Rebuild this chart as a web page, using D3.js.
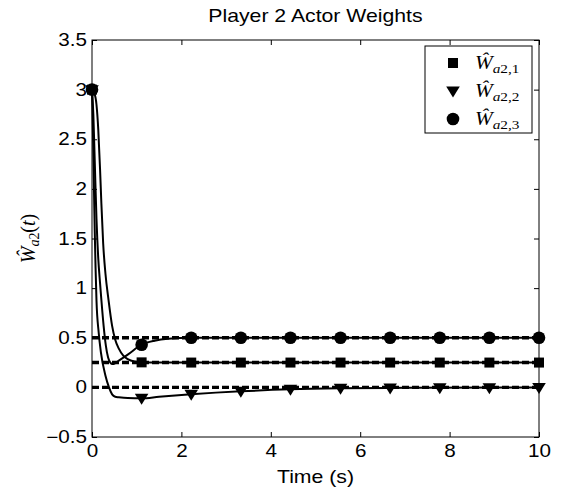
<!DOCTYPE html>
<html>
<head>
<meta charset="utf-8">
<script src="https://cdn.jsdelivr.net/npm/d3@7"></script>
<style>
  body { margin: 0; background: #fff; }
  text { fill: #000; }
  /* el grafico original esta un poco estirado en horizontal */
  .sx  { transform: scaleX(1.18); transform-box: fill-box; transform-origin: 50% 50%; }
  .sxr { transform: scaleX(1.18); transform-box: fill-box; transform-origin: 100% 50%; }
  .sxl { transform: scaleX(1.18); transform-box: fill-box; transform-origin: 0% 50%; }
</style>
</head>
<body>
<script>
const WIDTH = 565;
const HEIGHT = 492;

// datos
const xTicks = [0, 2, 4, 6, 8, 10];
const yTicks = [-0.5, 0, 0.5, 1, 1.5, 2, 2.5, 3, 3.5];
const idealValues = [0.25, 0, 0.5];

const t1 = [0, 0.05, 0.1, 0.14, 0.18, 0.21, 0.25, 0.3, 0.37, 0.45, 0.52, 0.6, 0.7, 0.8, 0.95, 1.11, 1.5, 2, 4, 10];
const w1 = [3, 2.97, 2.85, 2.6, 2.2, 1.85, 1.45, 1.15, 0.88, 0.62, 0.48, 0.39, 0.32, 0.285, 0.26, 0.252, 0.25, 0.25, 0.25, 0.25];

const t2 = [0, 0.02, 0.04, 0.06, 0.08, 0.1, 0.15, 0.2, 0.3, 0.38, 0.45, 0.52, 0.6, 0.8, 1.11, 1.5, 2.22, 3.33, 4.44, 5.56, 7, 10];
const w2 = [3, 2.6, 2.1, 1.6, 1.2, 0.88, 0.55, 0.35, 0.12, 0.0, -0.07, -0.095, -0.1, -0.108, -0.11, -0.095, -0.07, -0.04, -0.02, -0.01, -0.005, 0];

const t3 = [0, 0.03, 0.06, 0.1, 0.14, 0.18, 0.21, 0.26, 0.31, 0.36, 0.41, 0.46, 0.52, 0.6, 0.8, 1.11, 1.4, 1.7, 2.22, 3, 10];
const w3 = [3, 2.75, 2.3, 1.7, 1.3, 1.05, 0.88, 0.62, 0.42, 0.3, 0.25, 0.235, 0.245, 0.27, 0.33, 0.43, 0.47, 0.49, 0.5, 0.5, 0.5];

const markerT = [0, 1.11, 2.22, 3.33, 4.44, 5.56, 6.67, 7.78, 8.89, 10];
const markerW1 = [3, 0.252, 0.25, 0.25, 0.25, 0.25, 0.25, 0.25, 0.25, 0.25];
const markerW2 = [3, -0.11, -0.07, -0.04, -0.02, -0.01, -0.007, -0.005, -0.003, 0];
const markerW3 = [3, 0.43, 0.5, 0.5, 0.5, 0.5, 0.5, 0.5, 0.5, 0.5];

const legendSymbols = ['square', 'triangle', 'circle'];
const legendSubs = ['2,1', '2,2', '2,3'];

const m = { left: 92, top: 40, right: 26, bottom: 55 };
const w = WIDTH - m.left - m.right;
const h = HEIGHT - m.top - m.bottom;

let svg = d3.select('body').append('svg')
    .attr('width', WIDTH)
    .attr('height', HEIGHT)
    .style('font-family', 'Liberation Sans, Arial, sans-serif');

let g = svg.append('g').attr('transform', `translate(${m.left},${m.top})`);

let x = d3.scaleLinear().domain([0, 10]).range([0, w]);
let y = d3.scaleLinear().domain([-0.5, 3.5]).range([h, 0]);

// ejes (ticks hacia adentro, estilo matlab)
const tickLen = 5;
let xAxis = g.append('g').attr('transform', `translate(0,${h})`)
    .call(d3.axisBottom(x).tickValues(xTicks).tickSize(-tickLen).tickPadding(8).tickFormat(d3.format('d')));
let xTop = g.append('g')
    .call(d3.axisTop(x).tickValues(xTicks).tickSize(-tickLen).tickFormat(''));
let yAxis = g.append('g')
    .call(d3.axisLeft(y).tickValues(yTicks).tickSize(-tickLen).tickPadding(5).tickFormat(d => d3.format('')(d).replace('-', '\u2212')));
let yRight = g.append('g').attr('transform', `translate(${w},0)`)
    .call(d3.axisRight(y).tickValues(yTicks).tickSize(-tickLen).tickFormat(''));

[xAxis, xTop, yAxis, yRight].forEach(a => {
  a.select('.domain').remove();
  a.selectAll('line').attr('stroke', '#000').attr('stroke-width', 1);
  a.selectAll('text').style('font-size', '17.5px').style('font-family', 'Liberation Sans, Arial, sans-serif').attr('fill', '#000');
});
xAxis.selectAll('text').attr('class', 'sx');
yAxis.selectAll('text').attr('class', 'sxr');

g.append('rect').attr('width', w).attr('height', h)
    .attr('fill', 'none').attr('stroke', '#000').attr('stroke-width', 1);

// curvas
let line = d3.line().x(d => x(d[0])).y(d => y(d[1])).curve(d3.curveMonotoneX);
const series = [[t1, w1], [t2, w2], [t3, w3]];
series.forEach(s => {
  g.append('path')
    .datum(s[0].map((t, i) => [t, s[1][i]]))
    .attr('d', line)
    .attr('fill', 'none')
    .attr('stroke', '#000')
    .attr('stroke-width', 2);
});

// valores ideales (segmentada)
idealValues.forEach(v => {
  g.append('line')
    .attr('x1', x(0)).attr('x2', x(10))
    .attr('y1', y(v)).attr('y2', y(v))
    .attr('stroke', '#000')
    .attr('stroke-width', 3.4)
    .attr('stroke-dasharray', '7,3');
});

// marcadores
function symbolPath(type) {
  if (type === 'square') return d3.symbol(d3.symbolSquare, 100)();
  if (type === 'circle') return d3.symbol(d3.symbolCircle, 125)();
  // triangulo hacia abajo
  return 'M-6.8,-4.5L6.8,-4.5L0,6.5Z';
}
const markerSets = [markerW1, markerW2, markerW3];
markerSets.forEach((vals, k) => {
  g.selectAll(null).data(markerT.map((t, i) => [t, vals[i]])).enter()
    .append('path')
    .attr('d', symbolPath(legendSymbols[k]))
    .attr('transform', d => `translate(${x(d[0])},${y(d[1])})`)
    .attr('fill', '#000');
});

// leyenda
let legend = svg.append('g').attr('transform', 'translate(425,46)');
legend.append('rect').attr('width', 107).attr('height', 87)
    .attr('fill', '#fff').attr('stroke', '#000').attr('stroke-width', 1);
legendSymbols.forEach((s, i) => {
  let ry = 17 + i * 28;
  legend.append('path').attr('d', symbolPath(s))
      .attr('transform', `translate(28,${ry})`).attr('fill', '#000');
  let txt = legend.append('text').attr('x', 50).attr('y', ry + 6)
      .attr('class', 'sxl')
      .style('font-family', 'Liberation Serif, serif').style('font-size', '18px');
  txt.append('tspan').style('font-style', 'italic').text('\u0174');
  txt.append('tspan').attr('dy', 4).style('font-size', '13px').style('font-style', 'italic').text('a');
  txt.append('tspan').style('font-size', '13px').text(legendSubs[i]);
});

// titulo y etiquetas
svg.append('text').attr('x', m.left + w / 2).attr('y', 22)
    .attr('class', 'sx')
    .attr('text-anchor', 'middle').style('font-size', '18px').text('Player 2 Actor Weights');

svg.append('text').attr('x', m.left + w / 2).attr('y', 483)
    .attr('class', 'sx')
    .attr('text-anchor', 'middle').style('font-size', '18px').text('Time (s)');

let yl = svg.append('g')
    .attr('transform', `translate(35,${m.top + h / 2}) rotate(-90)`)
    .append('text')
    .attr('text-anchor', 'middle')
    .style('font-family', 'Liberation Serif, serif').style('font-size', '20px');
yl.append('tspan').style('font-style', 'italic').text('\u0174');
yl.append('tspan').attr('dy', 4).style('font-size', '14px').style('font-style', 'italic').text('a');
yl.append('tspan').style('font-size', '14px').text('2');
yl.append('tspan').attr('dy', -4).text('(');
yl.append('tspan').style('font-style', 'italic').text('t');
yl.append('tspan').text(')');
</script>
</body>
</html>
